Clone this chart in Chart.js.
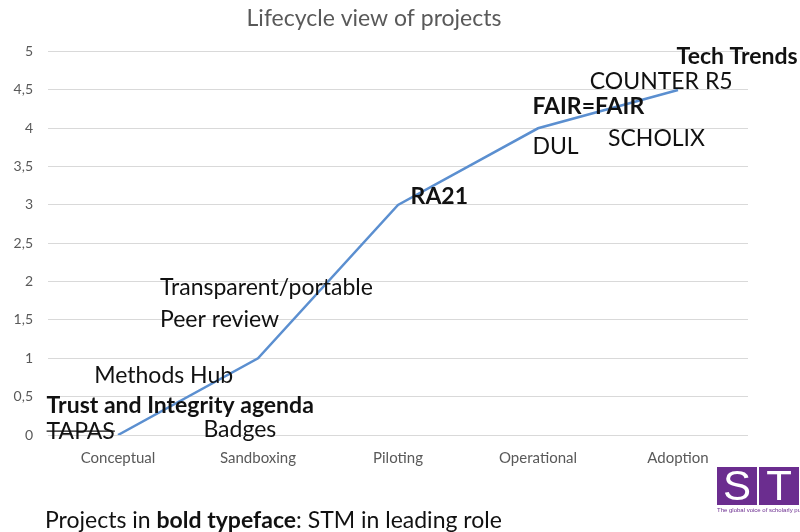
<!DOCTYPE html>
<html>
<head>
<meta charset="utf-8">
<script src="https://cdn.jsdelivr.net/npm/chart.js@4"></script>
<style>
  html, body { margin: 0; padding: 0; background: #fff; }
  #wrap { position: relative; width: 800px; height: 532px; }
  #note {
    position: absolute; left: 45px; top: 504px;
    font-family: Lato, sans-serif; font-size: 23px; line-height: 30px; color: #111; white-space: nowrap;
  }
  #logo { position: absolute; left: 717px; top: 467px; width: 83px; overflow: hidden; }
  #logo .sq {
    display: inline-block; width: 40px; height: 38px; background: #6b2d8f; color: #fff;
    font-family: "Liberation Sans", Arial, sans-serif; font-size: 42px; line-height: 38px;
    text-align: center; vertical-align: top;
  }
  #logo .sq + .sq { margin-left: 2px; }
  #logo .tag { font-family: "Liberation Sans", sans-serif; font-size: 6px; color: #6b2d8f; white-space: nowrap; margin-top: 2px; }
</style>
</head>
<body>
<div id="wrap">
  <canvas id="chart-lifecycle" width="800" height="532"></canvas>
  <div id="note">Projects in <b>bold typeface</b>: STM in leading role</div>
  <div id="logo"><span class="sq">S</span><span class="sq">T</span><div class="tag">The global voice of scholarly publishing</div></div>
</div>
<script>
const stages = ["Conceptual", "Sandboxing", "Piloting", "Operational", "Adoption"];
const maturity = [0, 1, 3, 4, 4.5];
const yTicks = [0, 0.5, 1, 1.5, 2, 2.5, 3, 3.5, 4, 4.5, 5];

// project labels, placed in data units (stage index, maturity)
const projectNames = ["Tech Trends", "COUNTER R5", "FAIR=FAIR", "DUL", "SCHOLIX", "RA21",
  "Transparent/portable", "Peer review", "Methods Hub", "Trust and Integrity agenda", "TAPAS", "Badges"];
const projectStage = [3.99, 3.37, 2.96, 2.96, 3.5, 2.09, 0.3, 0.3, -0.17, -0.51, -0.51, 0.61];
const projectLevel = [4.93, 4.61, 4.28, 3.76, 3.86, 3.11, 1.92, 1.51, 0.78, 0.39, 0.05, 0.07];
const projectBold = [true, false, true, false, false, true, false, false, false, true, false, false];
const projectStruck = [false, false, false, false, false, false, false, false, false, false, true, false];

const projectLabels = {
  id: "projectLabels",
  afterDatasetsDraw(chart) {
    const ctx = chart.ctx;
    const xs = chart.scales.x;
    const ys = chart.scales.y;
    ctx.save();
    ctx.fillStyle = "#111";
    ctx.textAlign = "left";
    ctx.textBaseline = "middle";
    projectNames.forEach((name, i) => {
      ctx.font = (projectBold[i] ? "bold " : "") + "23px Lato, sans-serif";
      const x = xs.getPixelForValue(projectStage[i]);
      const y = ys.getPixelForValue(projectLevel[i]);
      ctx.fillText(name, x, y);
      if (projectStruck[i]) {
        const w = ctx.measureText(name).width;
        ctx.strokeStyle = "#111";
        ctx.lineWidth = 1.3;
        ctx.beginPath();
        ctx.moveTo(x, y);
        ctx.lineTo(x + w, y);
        ctx.stroke();
      }
    });
    ctx.restore();
  }
};

const canvas = document.getElementById("chart-lifecycle");

const chart = new Chart(canvas, {
  type: "line",
  data: {
    labels: stages,
    datasets: [{
      data: maturity,
      borderColor: "#5b8fd0",
      borderWidth: 2.5,
      pointRadius: 0,
      tension: 0,
      fill: false
    }]
  },
  options: {
    responsive: false,
    animation: false,
    layout: { padding: { left: 0, right: 52, top: 0, bottom: 57 } },
    plugins: {
      legend: { display: false },
      tooltip: { enabled: false },
      title: {
        display: true,
        text: "Lifecycle view of projects",
        color: "#595959",
        font: { family: "Lato, sans-serif", size: 23, weight: "normal" },
        padding: { top: 5, bottom: 19 }
      }
    },
    scales: {
      x: {
        offset: true,
        grid: { display: false, drawTicks: false },
        border: { display: false },
        ticks: { color: "#595959", font: { family: "Lato, sans-serif", size: 15 }, padding: 14, maxRotation: 0 },
        afterFit(scale) { scale.height = 40; }
      },
      y: {
        min: 0,
        max: 5,
        afterBuildTicks(scale) { scale.ticks = yTicks.map(v => ({ value: v })); },
        grid: { color: "#d9d9d9", drawTicks: false },
        border: { display: false },
        ticks: {
          color: "#595959",
          font: { family: "Lato, sans-serif", size: 14 },
          padding: 15,
          callback: v => String(v).replace(".", ",")
        },
        afterFit(scale) { scale.width = 48; }
      }
    }
  },
  plugins: [projectLabels]
});
</script>
</body>
</html>
